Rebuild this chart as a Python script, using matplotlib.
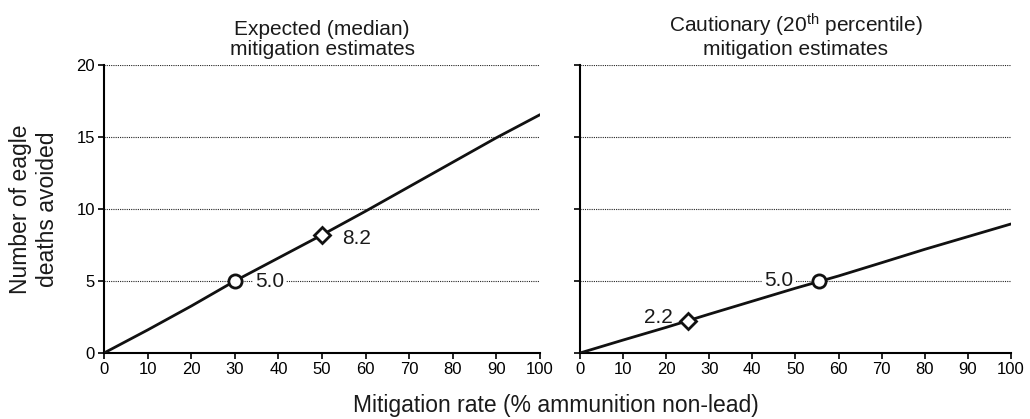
import matplotlib
matplotlib.use("Agg")
import matplotlib.pyplot as plt

plt.rcParams['font.family'] = ['Liberation Sans', 'DejaVu Sans']
plt.rcParams['mathtext.fontset'] = 'custom'
plt.rcParams['mathtext.rm'] = 'Liberation Sans'
plt.rcParams['mathtext.it'] = 'Liberation Sans:italic'
plt.rcParams['text.color'] = '#1a1a1a'

# Data
mitigation = [0, 10, 20, 30, 40, 50, 60, 70, 80, 90, 100]
deaths_median = [0, 1.6, 3.26, 5.0, 6.6, 8.2, 9.85, 11.55, 13.25, 14.95, 16.55]
deaths_cautious = [0, 0.9, 1.78, 2.7, 3.6, 4.5, 5.35, 6.27, 7.2, 8.08, 8.96]

median_circle = (30, 5.0)
median_diamond = (50, 8.2)
cautious_diamond = (25, 2.2)
cautious_circle = (55.5, 5.0)

titles = ["Expected (median)\nmitigation estimates",
          "Cautionary (20$^{\\rm th}$ percentile)\nmitigation estimates"]
xticks = list(range(0, 101, 10))
yticks = [0, 5, 10, 15, 20]

fig = plt.figure(figsize=(10.3, 4.19), dpi=100)
ax1 = fig.add_axes([0.101, 0.1575, 0.4233, 0.6874])
ax2 = fig.add_axes([0.5631, 0.1575, 0.4184, 0.6874])

for ax, ys, title in [(ax1, deaths_median, titles[0]), (ax2, deaths_cautious, titles[1])]:
    ax.set_xlim(0, 100)
    ax.set_ylim(0, 20)
    ax.set_xticks(xticks)
    ax.set_yticks(yticks)
    for g in yticks[1:]:
        ax.axhline(g, color='#222222', linestyle=(0, (1, 1)), linewidth=0.8, zorder=1)
    ax.plot(mitigation, ys, color='#111111', linewidth=2, zorder=3,
            solid_capstyle='round', solid_joinstyle='round')
    ax.spines['top'].set_visible(False)
    ax.spines['right'].set_visible(False)
    ax.spines['left'].set_linewidth(1.5)
    ax.spines['bottom'].set_linewidth(1.5)
    ax.tick_params(direction='out', length=4, width=1.2, labelsize=12, pad=2.5)
    ax.set_title(title, fontsize=15, pad=7, linespacing=1.1)

ax2.set_yticklabels([])

mk = dict(markerfacecolor='white', markeredgecolor='#111111', markeredgewidth=2,
          linestyle='none', zorder=5, clip_on=False)
ax1.plot(*median_circle, marker='o', markersize=9.5, **mk)
ax1.plot(*median_diamond, marker='D', markersize=8, **mk)
ax2.plot(*cautious_diamond, marker='D', markersize=8, **mk)
ax2.plot(*cautious_circle, marker='o', markersize=9.5, **mk)

bbox = dict(facecolor='white', edgecolor='none', pad=1.5)
ax1.text(34.6, median_circle[1], f"{median_circle[1]:.1f}",
         fontsize=15, va='center', ha='left', bbox=bbox, zorder=2)
ax1.text(54.6, median_diamond[1] - 0.25, f"{median_diamond[1]:.1f}",
         fontsize=15, va='center', ha='left', zorder=2)
ax2.text(21.6, cautious_diamond[1] + 0.3, f"{cautious_diamond[1]:.1f}",
         fontsize=15, va='center', ha='right', zorder=2)
ax2.text(49.4, cautious_circle[1] + 0.05, f"{cautious_circle[1]:.1f}",
         fontsize=15, va='center', ha='right', bbox=bbox, zorder=2)

fig.text(0.033, 0.5, "Number of eagle\ndeaths avoided", fontsize=16.5,
         rotation=90, ha='center', va='center', linespacing=1.2)
fig.text(0.540, 0.016, "Mitigation rate (% ammunition non-lead)", fontsize=16.5,
         ha='center', va='baseline')

fig.savefig("out.png", dpi=100)
